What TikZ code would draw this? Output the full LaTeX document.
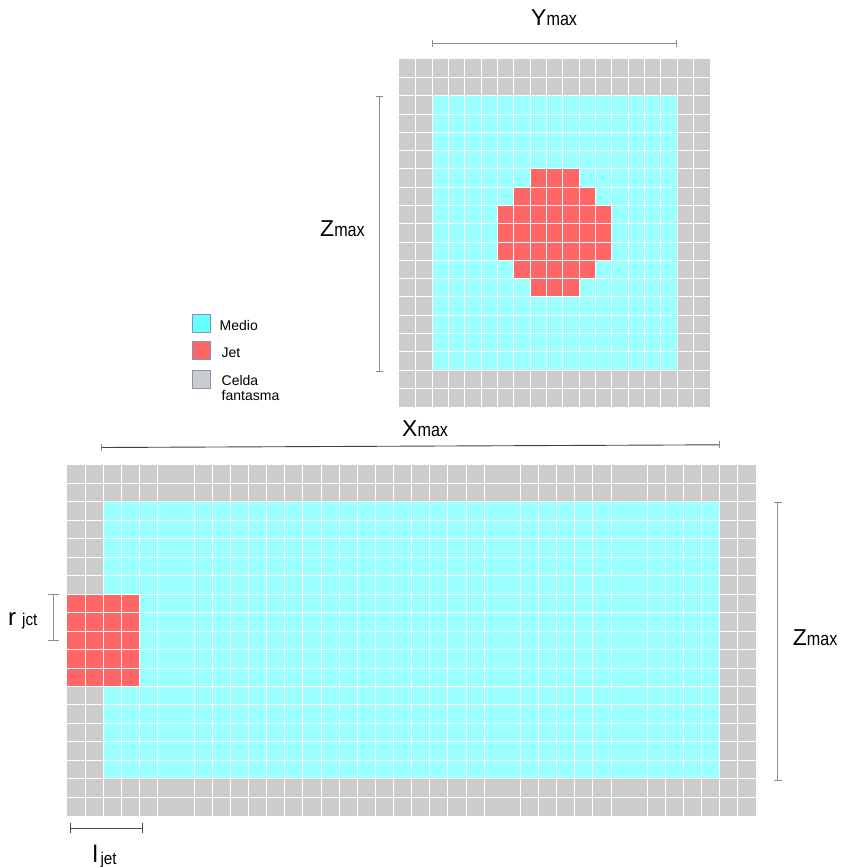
\documentclass[tikz,border=0pt]{standalone}
\usepackage{fontspec}
\setmainfont{Liberation Sans}
\usepackage{graphicx}
\definecolor{medio}{HTML}{99FFFF}
\definecolor{jetc}{HTML}{FF6666}
\definecolor{ghost}{HTML}{CCCCCC}
\definecolor{legmedio}{HTML}{66FFFF}
\definecolor{legborder}{HTML}{8296B4}
\definecolor{dimc}{HTML}{8C8C8C}
\newcommand\biglab[2]{{\fontsize{23}{23}\selectfont #1}\scalebox{0.85}[1]{\fontsize{19}{19}\selectfont #2}}
\begin{document}
\begin{tikzpicture}[x=1pt,y=-1pt,
  gridline/.style={draw=white, line width=1pt},
  dimline/.style={draw=dimc, line width=0.8pt},
  lbl/.style={inner sep=0pt, anchor=base west},
  legbox/.style={draw=legborder, line width=0.6pt, minimum width=18pt, minimum height=18pt, inner sep=0pt},
  legtext/.style={inner sep=0pt, anchor=west, font=\fontsize{14}{15.5}\selectfont, align=left}]
\useasboundingbox (0,0) rectangle (844,867);
% ---------- top grid (19 x 19) ----------
\def\tx{399.3}\def\ty{59.3}\def\tw{16.35}\def\th{18.28}
\fill[ghost] (\tx,\ty) rectangle ({\tx+19*\tw},{\ty+19*\th});
\fill[medio] ({\tx+2*\tw},{\ty+2*\th}) rectangle ({\tx+17*\tw},{\ty+17*\th});
\foreach \r/\a/\b in {6/8/10,7/7/11,8/6/12,9/6/12,10/6/12,11/7/11,12/8/10}{
  \fill[jetc] ({\tx+\a*\tw},{\ty+\r*\th}) rectangle ({\tx+(\b+1)*\tw},{\ty+(\r+1)*\th});
}
\foreach \i in {1,...,18}{
  \draw[gridline] ({\tx+\i*\tw},\ty) -- ({\tx+\i*\tw},{\ty+19*\th});
  \draw[gridline] (\tx,{\ty+\i*\th}) -- ({\tx+19*\tw},{\ty+\i*\th});
}
% ---------- bottom grid (38 x 19) ----------
\def\bx{67.3}\def\by{465}\def\bw{18.124}\def\bh{18.46}
\fill[ghost] (\bx,\by) rectangle ({\bx+38*\bw},{\by+19*\bh});
\fill[medio] ({\bx+2*\bw},{\by+2*\bh}) rectangle ({\bx+36*\bw},{\by+17*\bh});
\fill[jetc] (\bx,{\by+7*\bh}) rectangle ({\bx+4*\bw},{\by+12*\bh});
\foreach \i in {1,2,3,4,5,7,8,9,10,11,12,13,14,15,16,17,18,19,20,21,22,23,25,26,27,28,29,30,32,33,34,35,36,37}{
  \draw[gridline] ({\bx+\i*\bw},\by) -- ({\bx+\i*\bw},{\by+19*\bh});
}
\foreach \i in {1,...,18}{
  \draw[gridline] (\bx,{\by+\i*\bh}) -- ({\bx+38*\bw},{\by+\i*\bh});
}
% ---------- dimension lines ----------
\coordinate (ya) at (432,43.3); \coordinate (yb) at (676.7,43.3);
\draw[dimline] (ya) -- (yb);
\draw[dimline] ([yshift=3.5pt]ya) -- ([yshift=-3.5pt]ya);
\draw[dimline] ([yshift=3.5pt]yb) -- ([yshift=-3.5pt]yb);
\coordinate (za) at (379,96); \coordinate (zb) at (379,371);
\draw[dimline] (za) -- (zb);
\draw[dimline] ([xshift=-3.5pt]za) -- ([xshift=3.5pt]za);
\draw[dimline] ([xshift=-3.5pt]zb) -- ([xshift=3.5pt]zb);
\coordinate (xa) at (101,447.5); \coordinate (xb) at (719,444.8);
\draw[draw=black!75, line width=0.9pt] (xa) -- (xb);
\draw[dimline] ([yshift=3.5pt]xa) -- ([yshift=-3.5pt]xa);
\draw[dimline] ([yshift=3.5pt]xb) -- ([yshift=-3.5pt]xb);
\coordinate (zc) at (777.7,502.7); \coordinate (zd) at (777.7,780);
\draw[dimline] (zc) -- (zd);
\draw[dimline] ([xshift=-4pt]zc) -- ([xshift=4pt]zc);
\draw[dimline] ([xshift=-4pt]zd) -- ([xshift=4pt]zd);
\coordinate (ra) at (53.3,594.3); \coordinate (rb) at (53.3,640.7);
\draw[dimline] (ra) -- (rb);
\draw[dimline] ([xshift=-5.5pt]ra) -- ([xshift=5.5pt]ra);
\draw[dimline] ([xshift=-5.5pt]rb) -- ([xshift=5.5pt]rb);
\coordinate (la) at (70.7,828.3); \coordinate (lb) at (142.3,828.3);
\draw[draw=black!70, line width=0.8pt] (la) -- (lb);
\draw[draw=black!70, line width=0.8pt] ([yshift=5pt]la) -- ([yshift=-5pt]la);
\draw[draw=black!70, line width=0.8pt] ([yshift=5pt]lb) -- ([yshift=-5pt]lb);
% ---------- labels ----------
\node[lbl] (ymax) at (531,26) {\biglab{Y}{max}};
\node[lbl] (zmaxt) at (320,236.7) {\biglab{Z}{max}};
\node[lbl] (xmax) at (402,436) {\biglab{X}{max}};
\node[lbl] (zmaxb) at (792.7,645) {\biglab{Z}{max}};
\node[lbl] (rjct) at (8,625) {{\fontsize{24}{24}\selectfont r}\hspace{6pt}\scalebox{0.9}[1]{\fontsize{17}{17}\selectfont jct}};
\node[lbl] (ljet) at (92.5,862) {{\fontsize{24}{24}\selectfont l}\hspace{2.5pt}\raisebox{-2.5pt}{\scalebox{0.9}[1]{\fontsize{17}{17}\selectfont jet}}};
% ---------- legend ----------
\node[legbox, fill=legmedio] (lm) at (201.5,323) {};
\node[legbox, fill=jetc] (lj) at (201.5,350.5) {};
\node[legbox, fill=ghost] (lg) at (201.5,379.3) {};
\node[legtext] (tm) at (219.5,325) {Medio};
\node[legtext] (tj) at (221.5,352.5) {Jet};
\node[legtext] (tg) at (221.5,388) {Celda\\fantasma};
\end{tikzpicture}
\end{document}
